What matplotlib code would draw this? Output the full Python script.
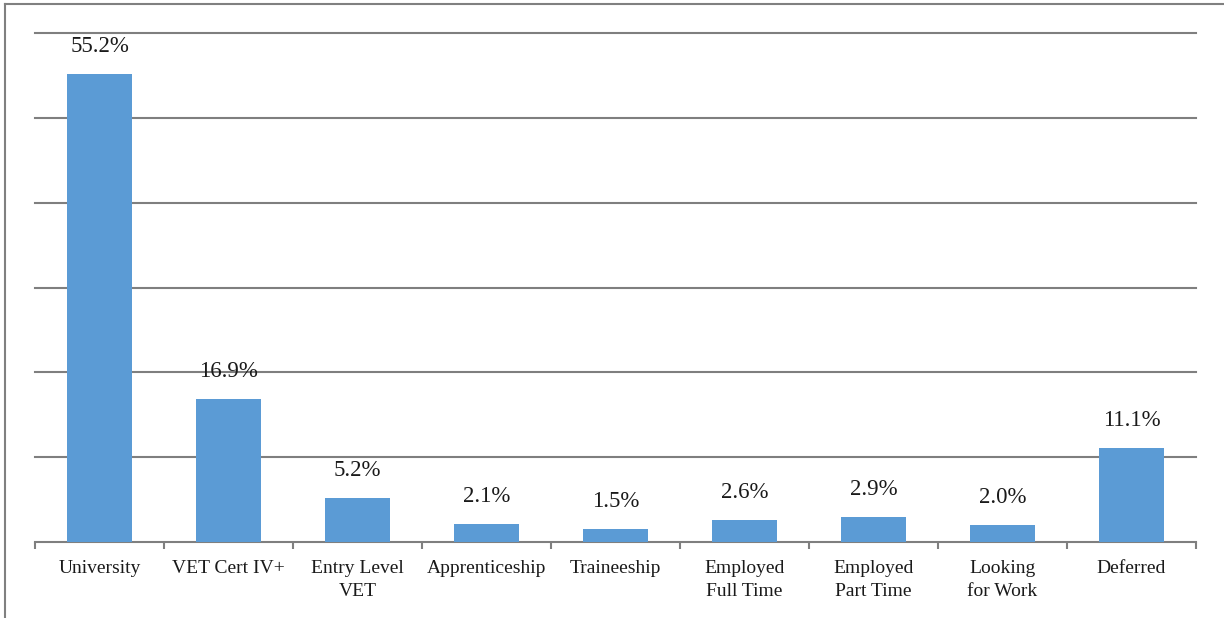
import matplotlib
matplotlib.use("Agg")
import matplotlib.pyplot as plt
from matplotlib.lines import Line2D

categories = ["University", "VET Cert IV+", "Entry Level\nVET", "Apprenticeship",
              "Traineeship", "Employed\nFull Time", "Employed\nPart Time",
              "Looking\nfor Work", "Deferred"]
values = [55.2, 16.9, 5.2, 2.1, 1.5, 2.6, 2.9, 2.0, 11.1]

plt.rcParams['font.family'] = ['Liberation Serif', 'DejaVu Serif']

fig = plt.figure(figsize=(12.24, 6.18), dpi=100)
ax = fig.add_axes([35 / 1224, 76 / 618, 1161 / 1224, 509 / 618])

x = range(len(categories))
bars = ax.bar(x, values, width=0.5, color="#5B9BD5", zorder=3)
for b, v in zip(bars, values):
    ax.text(b.get_x() + b.get_width() / 2, v + 2.0, f"{v:.1f}%",
            ha="center", va="bottom", fontsize=16.5, color="#1a1a1a")

ax.set_xlim(-0.5, len(categories) - 0.5)
ax.set_ylim(0, 60)
ax.set_yticks(range(10, 61, 10))
ax.yaxis.grid(True, color="#7f7f7f", linewidth=1.5, zorder=0)
for gl in ax.get_ygridlines():
    gl.set_clip_on(False)
ax.tick_params(axis="y", left=False, labelleft=False)

ax.set_xticks(list(x))
ax.set_xticklabels(categories, fontsize=14, color="#1a1a1a", linespacing=1.45)
ax.set_xticks([i - 0.5 for i in range(len(categories) + 1)], minor=True)
ax.tick_params(axis="x", which="major", length=0, pad=13)
ax.tick_params(axis="x", which="minor", length=5, width=1.5, color="#7f7f7f")

for side in ["top", "right", "left"]:
    ax.spines[side].set_visible(False)
ax.spines["bottom"].set_color("#7f7f7f")
ax.spines["bottom"].set_linewidth(1.5)

# outer frame of the chart area
fig.add_artist(Line2D([5 / 1224, 5 / 1224], [0, 1 - 4 / 618], color="#808080", linewidth=1.5))
fig.add_artist(Line2D([5 / 1224, 1], [1 - 4 / 618, 1 - 4 / 618], color="#808080", linewidth=1.5))

fig.savefig("out.png", dpi=100)
